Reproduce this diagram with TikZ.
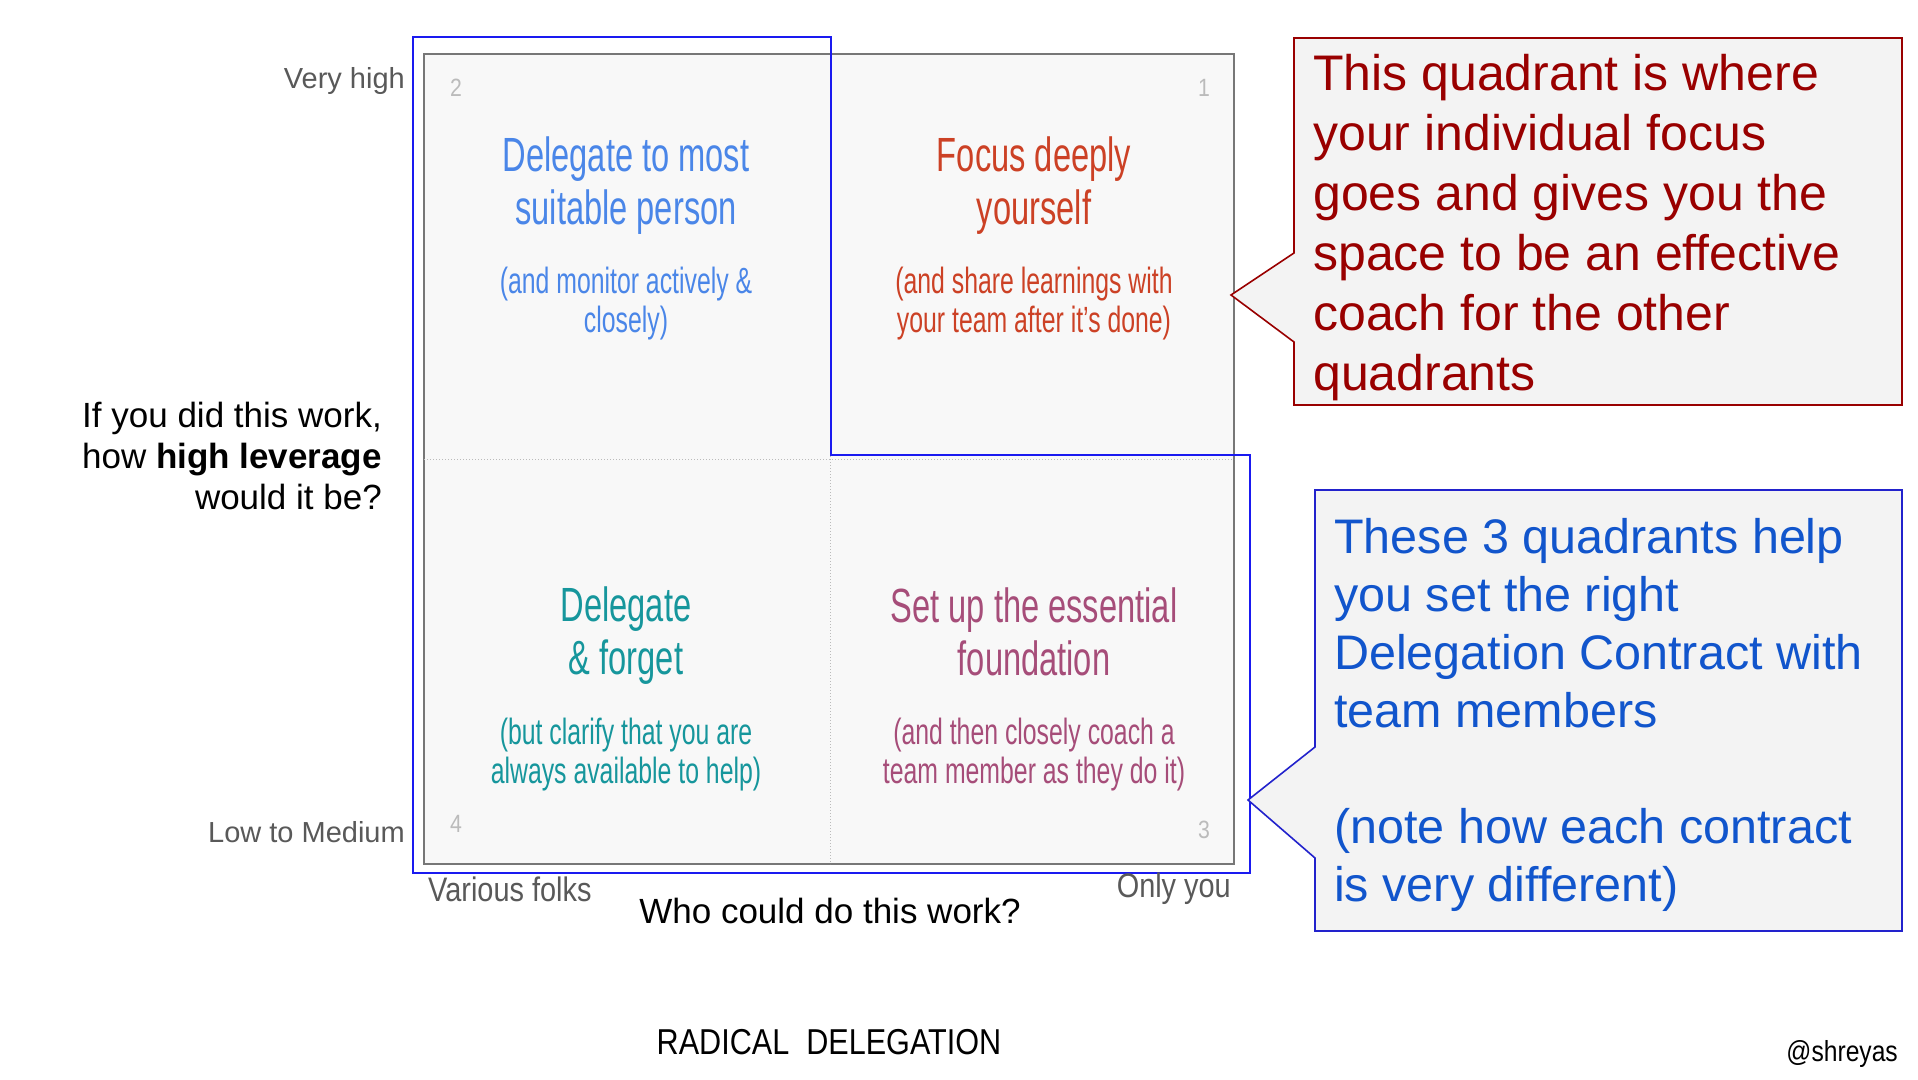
\documentclass[tikz,border=0pt]{standalone}
\usepackage{fontspec}
\setmainfont{Liberation Sans}
\newfontfamily\condfont[FakeStretch=0.68]{Liberation Sans}
\newfontfamily\narrowfont[FakeStretch=0.85]{Liberation Sans}

\definecolor{quadblue}{HTML}{4A86E8}
\definecolor{quadred}{HTML}{CC4125}
\definecolor{quadteal}{HTML}{16969C}
\definecolor{quadplum}{HTML}{A64D79}
\definecolor{noteRed}{HTML}{990000}
\definecolor{noteBlue}{HTML}{1155CC}
\definecolor{noteBlueEdge}{HTML}{2222CC}
\definecolor{outlineBlue}{HTML}{1A1AF0}
\definecolor{boxfill}{HTML}{F8F8F8}
\definecolor{boxedge}{HTML}{777777}
\definecolor{notefill}{HTML}{F3F3F3}
\definecolor{labelgray}{HTML}{595959}
\definecolor{numgray}{HTML}{BBBBBB}

\begin{document}
\begin{tikzpicture}[x=1pt,y=-1pt,
  qtitle/.style={align=center, inner sep=0pt, font=\condfont\fontsize{48}{53}\selectfont},
  qnote/.style={align=center, inner sep=0pt, font=\condfont\fontsize{36.5}{39}\selectfont},
  qnum/.style={inner sep=0pt, text=numgray, font=\narrowfont\fontsize{25}{25}\selectfont},
  axislabel/.style={inner sep=0pt, text=labelgray, font=\fontsize{29}{29}\selectfont},
  endlabel/.style={inner sep=0pt, text=labelgray, font=\narrowfont\fontsize{34}{34}\selectfont},
  question/.style={inner sep=0pt, font=\fontsize{35}{41}\selectfont},
  notetext/.style={inner sep=0pt, align=left, anchor=north west, font=\fontsize{50}{60}\selectfont}]

\useasboundingbox (0,0) rectangle (1918,1079);
\fill[white] (0,0) rectangle (1918,1079);

% quadrant box
\draw[boxedge, fill=boxfill, line width=2pt] (424,54) rectangle (1234,864);
\draw[numgray, dotted, line width=1pt] (424,459) -- (1234,459);
\draw[numgray, dotted, line width=1pt] (830,54) -- (830,864);

% blue outline of quadrants 2, 3, 4
\draw[outlineBlue, line width=1.6pt]
  (413,37) -- (831,37) -- (831,455) -- (1250,455) -- (1250,873) -- (413,873) -- cycle;

% quadrant numbers
\node[qnum] (n2) at (456,88) {2};
\node[qnum] (n1) at (1204,88) {1};
\node[qnum] (n4) at (456,824) {4};
\node[qnum] (n3) at (1204,830) {3};

% quadrant texts
\node[qtitle, text=quadblue] (q2title) at (626,186) {Delegate to most\\suitable person};
\node[qnote, text=quadblue] (q2note) at (626,304) {(and monitor actively \&\\closely)};
\node[qtitle, text=quadred] (q1title) at (1034,186) {Focus deeply\\yourself};
\node[qnote, text=quadred] (q1note) at (1034,304) {(and share learnings with\\your team after it’s done)};
\node[qtitle, text=quadteal] (q4title) at (626,636) {Delegate\\\& forget};
\node[qnote, text=quadteal] (q4note) at (626,755) {(but clarify that you are\\always available to help)};
\node[qtitle, text=quadplum] (q3title) at (1034,632) {Set up the essential\\foundation};
\node[qnote, text=quadplum] (q3note) at (1034,755) {(and then closely coach a\\team member as they do it)};

% axes labels
\node[axislabel, anchor=east] (veryhigh) at (405,81) {Very high};
\node[axislabel, anchor=east] (lowmed) at (405,832) {Low to Medium};
\node[question, anchor=east, align=right] (leverage) at (382,456)
  {If you did this work,\\how \textbf{high leverage}\\would it be?};
\node[endlabel, anchor=west] (various) at (428,889) {Various folks};
\node[endlabel, anchor=east] (onlyyou) at (1231,889) {Only you};
\node[question] (who) at (830,911) {Who could do this work?};

% callout for quadrant 1
\draw[noteRed, fill=notefill, line width=1.6pt]
  (1294,38) -- (1902,38) -- (1902,405) -- (1294,405) -- (1294,342)
  -- (1231,295) -- (1294,253) -- cycle;
\node[notetext, text=noteRed] (focusnote) at (1313,54)
  {This quadrant is where\\your individual focus\\goes and gives you the\\space to be an effective\\coach for the other\\quadrants};

% callout for quadrants 2, 3, 4
\draw[noteBlueEdge, fill=notefill, line width=1.6pt]
  (1315,490) -- (1902,490) -- (1902,931) -- (1315,931) -- (1315,858)
  -- (1248,800) -- (1315,747) -- cycle;
\node[notetext, text=noteBlue, font=\fontsize{48.5}{58}\selectfont] (contractnote) at (1334,518)
  {These 3 quadrants help\\you set the right\\Delegation Contract with\\team members\\[58pt](note how each contract\\is very different)};

% footer
\node[inner sep=0pt, font=\narrowfont\fontsize{36}{36}\selectfont] (title) at (829,1042) {RADICAL\ \ DELEGATION};
\node[inner sep=0pt, anchor=east, font=\narrowfont\fontsize{29}{29}\selectfont] (handle) at (1898,1054) {@shreyas};

\end{tikzpicture}
\end{document}
